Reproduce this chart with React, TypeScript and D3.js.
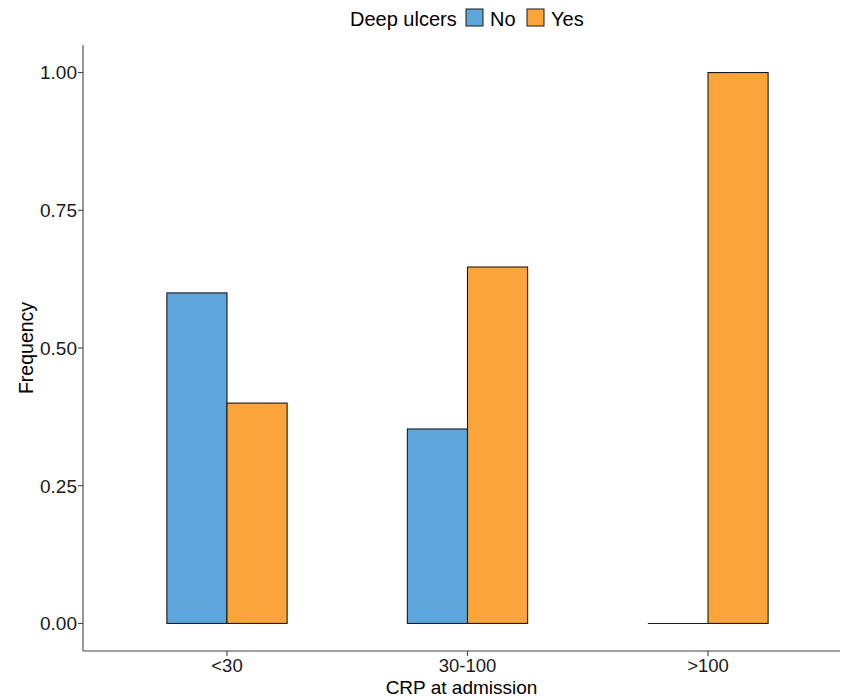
import React from "react";
import * as d3 from "d3";

const categories = ["<30", "30-100", ">100"];
const groups = ["No", "Yes"];
const valuesNo = [0.6, 0.353, 0];
const valuesYes = [0.4, 0.647, 1.0];
const yTicks = [0, 0.25, 0.5, 0.75, 1.0];
const colors = ["#5DA5DA", "#FAA43A"];

const W = 846;
const H = 698;
const FONT = "'Liberation Sans', Arial, Helvetica, sans-serif";

export default function App() {
  const left = 83, right = 840, top = 45, bottom = 651;
  const y = d3.scaleLinear().domain([-0.05, 1.05]).range([bottom, top]);
  const x = d3
    .scaleBand<string>()
    .domain(categories)
    .range([106.75, 828.25])
    .paddingInner(0.5)
    .paddingOuter(0.25);
  const xi = d3.scaleBand<string>().domain(groups).range([0, x.bandwidth()]);
  const series = [valuesNo, valuesYes];

  return (
    <svg
      width={W}
      height={H}
      style={{ position: "absolute", left: 0, top: 0, background: "#fff" }}
      fontFamily={FONT}
    >
      {/* bars */}
      {categories.map((c, i) =>
        groups.map((g, j) => {
          const v = series[j][i];
          const x0 = (x(c) ?? 0) + (xi(g) ?? 0);
          if (v === 0) {
            return (
              <line
                key={c + g}
                x1={x0}
                x2={x0 + xi.bandwidth()}
                y1={y(0)}
                y2={y(0)}
                stroke="#1a1a1a"
                strokeWidth={1.1}
              />
            );
          }
          return (
            <rect
              key={c + g}
              x={x0}
              y={y(v)}
              width={xi.bandwidth()}
              height={y(0) - y(v)}
              fill={colors[j]}
              stroke="#1a1a1a"
              strokeWidth={1.1}
            />
          );
        })
      )}
      {/* axes */}
      <line x1={left} x2={left} y1={top} y2={bottom} stroke="#444" strokeWidth={1.1} />
      <line x1={left} x2={right} y1={bottom} y2={bottom} stroke="#444" strokeWidth={1.1} />
      {yTicks.map((t) => (
        <g key={t}>
          <line x1={left - 5} x2={left} y1={y(t)} y2={y(t)} stroke="#444" strokeWidth={1.1} />
          <text
            x={left - 6}
            y={y(t)}
            dy="0.36em"
            textAnchor="end"
            fontSize={19}
            fill="#1a1a1a"
          >
            {t.toFixed(2)}
          </text>
        </g>
      ))}
      {categories.map((c) => {
        const cx = (x(c) ?? 0) + x.bandwidth() / 2;
        return (
          <g key={c}>
            <line x1={cx} x2={cx} y1={bottom} y2={bottom + 5} stroke="#444" strokeWidth={1.1} />
            <text x={cx} y={672} textAnchor="middle" fontSize={18.5} fill="#1a1a1a">
              {c}
            </text>
          </g>
        );
      })}
      <text x={(left + right) / 2} y={694} textAnchor="middle" fontSize={19} fill="#000">
        CRP at admission
      </text>
      <text
        transform={`translate(33, ${(top + bottom) / 2}) rotate(-90)`}
        textAnchor="middle"
        fontSize={19.5}
        fill="#000"
      >
        Frequency
      </text>
      {/* legend */}
      <text x={350} y={26} fontSize={20} fill="#000">
        Deep ulcers
      </text>
      {groups.map((g, j) => {
        const kx = j === 0 ? 466 : 527;
        return (
          <g key={g}>
            <rect x={kx} y={9} width={17} height={17} fill={colors[j]} stroke="#1a1a1a" strokeWidth={1} />
            <text x={kx + 24} y={26} fontSize={20} fill="#000">
              {g}
            </text>
          </g>
        );
      })}
    </svg>
  );
}
